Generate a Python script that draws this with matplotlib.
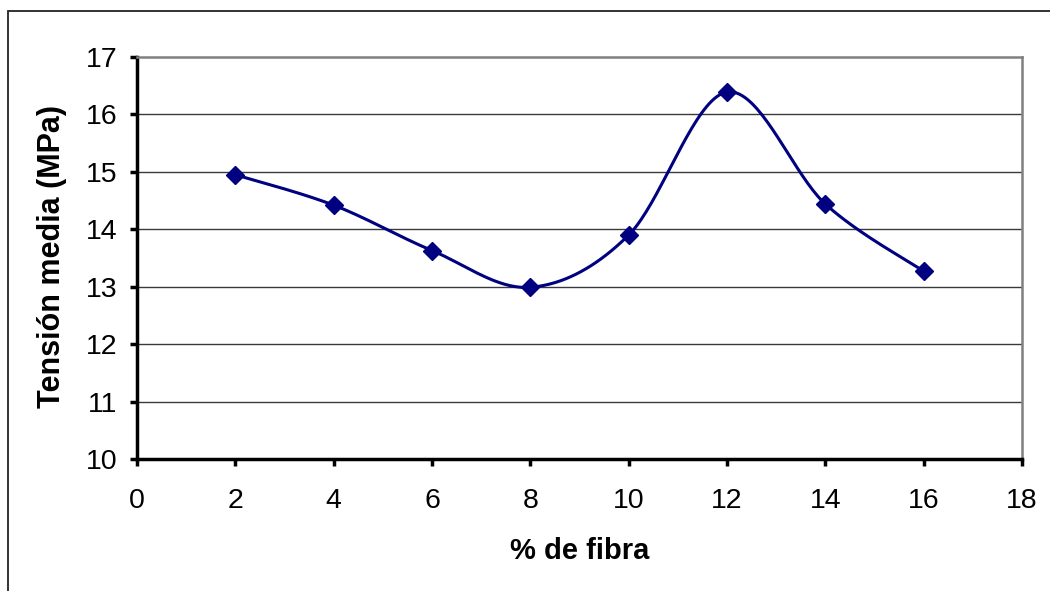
import numpy as np
import matplotlib
matplotlib.use('Agg')
import matplotlib.pyplot as plt
from matplotlib.patches import Rectangle

plt.rcParams['font.family'] = ['Liberation Sans', 'DejaVu Sans']

fibra = [2, 4, 6, 8, 10, 12, 14, 16]
tension = [14.95, 14.42, 13.63, 12.99, 13.90, 16.39, 14.44, 13.27]


def smooth_line(x, y, n=40):
    # bezier segments with catmull-rom style control points (like a spreadsheet smoothed line)
    x = np.asarray(x, float)
    y = np.asarray(y, float)
    px = np.concatenate([[x[0]], x, [x[-1]]])
    py = np.concatenate([[y[0]], y, [y[-1]]])
    xs, ys = [], []
    t = np.linspace(0, 1, n)
    for i in range(1, len(px) - 2):
        p0 = np.array([px[i], py[i]])
        p3 = np.array([px[i + 1], py[i + 1]])
        p1 = p0 + (np.array([px[i + 1], py[i + 1]]) - np.array([px[i - 1], py[i - 1]])) / 6
        p2 = p3 - (np.array([px[i + 2], py[i + 2]]) - np.array([px[i], py[i]])) / 6
        b = ((1 - t)**3)[:, None] * p0 + (3 * (1 - t)**2 * t)[:, None] * p1 \
            + (3 * (1 - t) * t**2)[:, None] * p2 + (t**3)[:, None] * p3
        xs.extend(b[:, 0])
        ys.extend(b[:, 1])
    return np.array(xs), np.array(ys)


fig = plt.figure(figsize=(10.5, 5.91), dpi=100)
ax = fig.add_axes([137/1050, 1 - 459/591, 885/1050, 402/591])

# outer chart frame
fig.patches.append(Rectangle((8/1050, -0.1), 1.2, 1 - 11/591 + 0.1, transform=fig.transFigure,
                             fill=False, edgecolor='#222222', linewidth=1.3))

sx, sy = smooth_line(fibra, tension)
ax.plot(sx, sy, color='#000080', lw=2.2, zorder=3)
ax.plot(fibra, tension, linestyle='none', marker='D', markersize=9,
        color='#000080', zorder=4)

ax.set_xlim(0, 18)
ax.set_ylim(10, 17)
ax.set_xticks(range(0, 19, 2))
ax.set_yticks(range(10, 18))
for yv in range(11, 17):
    ax.axhline(yv, color='#3a3a3a', lw=1.0, zorder=1)

ax.spines['left'].set_linewidth(2.5)
ax.spines['bottom'].set_linewidth(2.5)
ax.spines['left'].set_color('black')
ax.spines['bottom'].set_color('black')
ax.spines['top'].set_color('#808080')
ax.spines['right'].set_color('#808080')
ax.spines['top'].set_linewidth(1.8)
ax.spines['right'].set_linewidth(1.8)

ax.tick_params(axis='both', direction='out', length=5, width=2.5, labelsize=20.5)
ax.tick_params(axis='x', pad=16)
ax.tick_params(axis='y', pad=9)

fig.text(580/1050, 1 - 551/591, '% de fibra', fontsize=21, fontweight='bold',
         ha='center', va='center')
fig.text(52/1050, 1 - 257/591, 'Tensión media (MPa)', fontsize=22, fontweight='bold',
         ha='center', va='center', rotation=90)

fig.savefig('out.png', dpi=100)
